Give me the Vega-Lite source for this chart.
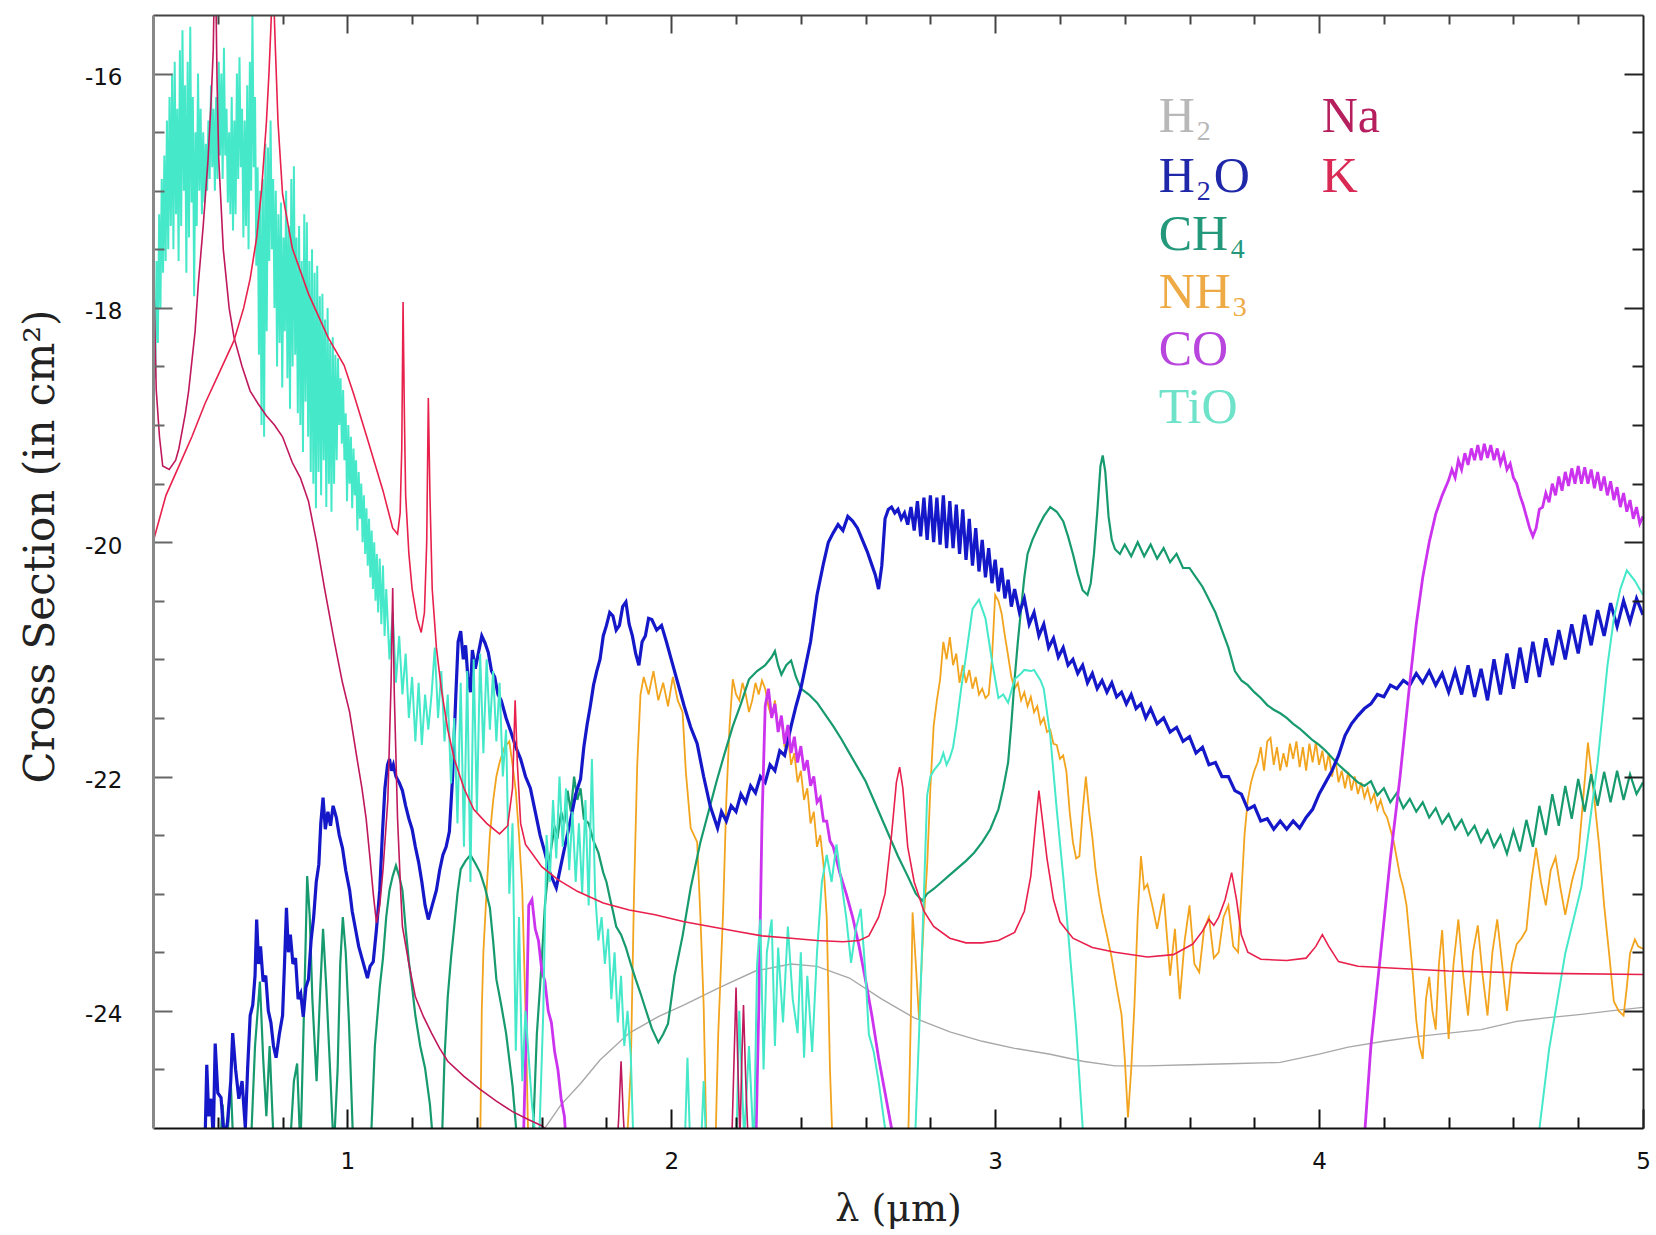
{
"$schema": "https://vega.github.io/schema/vega-lite/v6.json",
"width": 1490, "height": 1113,
"autosize": {"type": "none"},
"padding": {"left": 153, "top": 15, "right": 13, "bottom": 107},
"background": "white",
"config": {"view": {"stroke": null}},
"datasets": {
"h2": [{"x":1.58,"y":-25.3},{"x":1.61,"y":-25.0},{"x":1.66,"y":-24.8},{"x":1.72,"y":-24.62},{"x":1.78,"y":-24.42},{"x":1.87,"y":-24.19},{"x":1.96,"y":-24.05},{"x":2.04,"y":-23.95},{"x":2.15,"y":-23.8},{"x":2.26,"y":-23.66},{"x":2.37,"y":-23.6},{"x":2.45,"y":-23.62},{"x":2.55,"y":-23.72},{"x":2.65,"y":-23.9},{"x":2.75,"y":-24.06},{"x":2.86,"y":-24.18},{"x":2.96,"y":-24.26},{"x":3.06,"y":-24.32},{"x":3.17,"y":-24.37},{"x":3.27,"y":-24.43},{"x":3.37,"y":-24.47},{"x":3.47,"y":-24.47},{"x":3.6,"y":-24.46},{"x":3.75,"y":-24.45},{"x":3.88,"y":-24.44},{"x":4.0,"y":-24.37},{"x":4.09,"y":-24.31},{"x":4.2,"y":-24.26},{"x":4.3,"y":-24.22},{"x":4.4,"y":-24.19},{"x":4.5,"y":-24.16},{"x":4.61,"y":-24.09},{"x":4.7,"y":-24.06},{"x":4.81,"y":-24.03},{"x":4.9,"y":-24.0},{"x":5.0,"y":-23.97}],
"nh3": [{"x":1.38,"y":-25.5},{"x":1.41,"y":-25.2},{"x":1.415,"y":-24.0},{"x":1.42,"y":-23.5},{"x":1.43,"y":-22.97},{"x":1.44,"y":-22.5},{"x":1.45,"y":-22.21},{"x":1.46,"y":-22.0},{"x":1.47,"y":-21.88},{"x":1.485,"y":-21.75},{"x":1.5,"y":-21.7},{"x":1.51,"y":-21.9},{"x":1.52,"y":-22.12},{"x":1.53,"y":-22.5},{"x":1.54,"y":-22.97},{"x":1.55,"y":-24.0},{"x":1.56,"y":-25.3},{"x":1.86,"y":-25.3},{"x":1.875,"y":-24.5},{"x":1.885,"y":-23.0},{"x":1.895,"y":-21.9},{"x":1.905,"y":-21.3},{"x":1.915,"y":-21.15},{"x":1.93,"y":-21.3},{"x":1.945,"y":-21.1},{"x":1.96,"y":-21.35},{"x":1.975,"y":-21.2},{"x":1.99,"y":-21.4},{"x":2.005,"y":-21.15},{"x":2.02,"y":-21.35},{"x":2.035,"y":-21.45},{"x":2.045,"y":-21.96},{"x":2.06,"y":-22.44},{"x":2.08,"y":-22.56},{"x":2.09,"y":-23.2},{"x":2.1,"y":-23.95},{"x":2.11,"y":-25.3},{"x":2.135,"y":-25.3},{"x":2.145,"y":-24.2},{"x":2.16,"y":-23.16},{"x":2.17,"y":-22.2},{"x":2.18,"y":-21.57},{"x":2.19,"y":-21.17},{"x":2.2,"y":-21.3},{"x":2.21,"y":-21.35},{"x":2.22,"y":-21.2},{"x":2.23,"y":-21.3},{"x":2.24,"y":-21.45},{"x":2.25,"y":-21.35},{"x":2.26,"y":-21.2},{"x":2.27,"y":-21.3},{"x":2.28,"y":-21.18},{"x":2.29,"y":-21.25},{"x":2.3,"y":-21.4},{"x":2.31,"y":-21.5},{"x":2.32,"y":-21.35},{"x":2.33,"y":-21.6},{"x":2.34,"y":-21.5},{"x":2.35,"y":-21.75},{"x":2.36,"y":-21.65},{"x":2.37,"y":-21.9},{"x":2.38,"y":-21.8},{"x":2.39,"y":-22.05},{"x":2.4,"y":-21.95},{"x":2.41,"y":-22.2},{"x":2.42,"y":-22.1},{"x":2.43,"y":-22.4},{"x":2.44,"y":-22.3},{"x":2.45,"y":-22.6},{"x":2.46,"y":-22.5},{"x":2.47,"y":-22.75},{"x":2.48,"y":-23.2},{"x":2.49,"y":-24.5},{"x":2.5,"y":-25.3},{"x":2.73,"y":-25.3},{"x":2.74,"y":-24.0},{"x":2.745,"y":-23.16},{"x":2.755,"y":-23.6},{"x":2.765,"y":-24.07},{"x":2.78,"y":-23.2},{"x":2.79,"y":-22.76},{"x":2.8,"y":-22.1},{"x":2.81,"y":-21.57},{"x":2.82,"y":-21.35},{"x":2.83,"y":-21.17},{"x":2.84,"y":-20.85},{"x":2.85,"y":-21.0},{"x":2.86,"y":-20.81},{"x":2.87,"y":-21.05},{"x":2.88,"y":-20.95},{"x":2.89,"y":-21.2},{"x":2.9,"y":-21.05},{"x":2.91,"y":-21.2},{"x":2.92,"y":-21.09},{"x":2.93,"y":-21.25},{"x":2.94,"y":-21.15},{"x":2.95,"y":-21.3},{"x":2.96,"y":-21.25},{"x":2.97,"y":-21.33},{"x":2.98,"y":-21.3},{"x":2.99,"y":-21.0},{"x":3.0,"y":-20.45},{"x":3.01,"y":-20.5},{"x":3.02,"y":-20.61},{"x":3.03,"y":-20.8},{"x":3.04,"y":-20.97},{"x":3.05,"y":-21.15},{"x":3.06,"y":-21.25},{"x":3.07,"y":-21.2},{"x":3.08,"y":-21.35},{"x":3.09,"y":-21.28},{"x":3.1,"y":-21.4},{"x":3.11,"y":-21.32},{"x":3.12,"y":-21.45},{"x":3.13,"y":-21.4},{"x":3.14,"y":-21.55},{"x":3.15,"y":-21.5},{"x":3.16,"y":-21.62},{"x":3.17,"y":-21.6},{"x":3.18,"y":-21.72},{"x":3.19,"y":-21.73},{"x":3.2,"y":-21.85},{"x":3.21,"y":-21.82},{"x":3.22,"y":-21.96},{"x":3.23,"y":-22.3},{"x":3.24,"y":-22.56},{"x":3.25,"y":-22.7},{"x":3.26,"y":-22.68},{"x":3.27,"y":-22.3},{"x":3.28,"y":-22.0},{"x":3.29,"y":-22.3},{"x":3.3,"y":-22.52},{"x":3.31,"y":-22.8},{"x":3.32,"y":-23.0},{"x":3.33,"y":-23.16},{"x":3.345,"y":-23.35},{"x":3.36,"y":-23.55},{"x":3.375,"y":-23.8},{"x":3.39,"y":-24.03},{"x":3.4,"y":-24.4},{"x":3.41,"y":-24.91},{"x":3.42,"y":-24.5},{"x":3.43,"y":-23.95},{"x":3.44,"y":-23.2},{"x":3.45,"y":-22.68},{"x":3.46,"y":-22.96},{"x":3.47,"y":-22.92},{"x":3.485,"y":-23.1},{"x":3.5,"y":-23.3},{"x":3.52,"y":-23.0},{"x":3.54,"y":-23.7},{"x":3.555,"y":-23.3},{"x":3.57,"y":-23.9},{"x":3.585,"y":-23.4},{"x":3.6,"y":-23.1},{"x":3.615,"y":-23.6},{"x":3.63,"y":-23.67},{"x":3.645,"y":-23.3},{"x":3.66,"y":-23.2},{"x":3.675,"y":-23.55},{"x":3.69,"y":-23.5},{"x":3.705,"y":-23.2},{"x":3.72,"y":-23.1},{"x":3.735,"y":-23.45},{"x":3.75,"y":-23.5},{"x":3.76,"y":-23.0},{"x":3.77,"y":-22.49},{"x":3.78,"y":-22.2},{"x":3.79,"y":-22.05},{"x":3.8,"y":-21.95},{"x":3.81,"y":-21.88},{"x":3.82,"y":-21.75},{"x":3.83,"y":-21.95},{"x":3.84,"y":-21.7},{"x":3.85,"y":-21.67},{"x":3.86,"y":-21.9},{"x":3.87,"y":-21.75},{"x":3.88,"y":-21.95},{"x":3.89,"y":-21.8},{"x":3.9,"y":-21.92},{"x":3.91,"y":-21.72},{"x":3.92,"y":-21.85},{"x":3.93,"y":-21.7},{"x":3.94,"y":-21.92},{"x":3.95,"y":-21.75},{"x":3.96,"y":-21.95},{"x":3.97,"y":-21.72},{"x":3.98,"y":-21.88},{"x":3.99,"y":-21.71},{"x":4.0,"y":-21.9},{"x":4.01,"y":-21.78},{"x":4.02,"y":-21.95},{"x":4.03,"y":-21.8},{"x":4.04,"y":-22.0},{"x":4.05,"y":-21.85},{"x":4.06,"y":-22.05},{"x":4.07,"y":-21.95},{"x":4.08,"y":-22.1},{"x":4.09,"y":-21.96},{"x":4.1,"y":-22.12},{"x":4.11,"y":-22.0},{"x":4.12,"y":-22.15},{"x":4.13,"y":-22.05},{"x":4.14,"y":-22.18},{"x":4.15,"y":-22.1},{"x":4.16,"y":-22.22},{"x":4.17,"y":-22.15},{"x":4.18,"y":-22.28},{"x":4.19,"y":-22.2},{"x":4.2,"y":-22.3},{"x":4.21,"y":-22.35},{"x":4.22,"y":-22.45},{"x":4.23,"y":-22.55},{"x":4.24,"y":-22.7},{"x":4.25,"y":-22.85},{"x":4.26,"y":-22.95},{"x":4.27,"y":-23.1},{"x":4.28,"y":-23.4},{"x":4.29,"y":-23.71},{"x":4.3,"y":-24.08},{"x":4.31,"y":-24.3},{"x":4.32,"y":-24.41},{"x":4.33,"y":-23.9},{"x":4.34,"y":-23.71},{"x":4.35,"y":-24.0},{"x":4.36,"y":-24.16},{"x":4.37,"y":-23.6},{"x":4.38,"y":-23.31},{"x":4.39,"y":-23.8},{"x":4.4,"y":-24.24},{"x":4.415,"y":-23.6},{"x":4.43,"y":-23.22},{"x":4.445,"y":-23.7},{"x":4.46,"y":-24.04},{"x":4.475,"y":-23.5},{"x":4.49,"y":-23.27},{"x":4.505,"y":-23.7},{"x":4.52,"y":-24.04},{"x":4.535,"y":-23.5},{"x":4.55,"y":-23.22},{"x":4.565,"y":-23.6},{"x":4.58,"y":-24.0},{"x":4.595,"y":-23.6},{"x":4.61,"y":-23.43},{"x":4.625,"y":-23.38},{"x":4.64,"y":-23.31},{"x":4.655,"y":-22.9},{"x":4.67,"y":-22.61},{"x":4.685,"y":-22.9},{"x":4.7,"y":-23.1},{"x":4.715,"y":-22.8},{"x":4.73,"y":-22.69},{"x":4.745,"y":-22.95},{"x":4.76,"y":-23.18},{"x":4.78,"y":-22.9},{"x":4.8,"y":-22.69},{"x":4.815,"y":-22.2},{"x":4.83,"y":-21.71},{"x":4.84,"y":-21.95},{"x":4.85,"y":-22.2},{"x":4.865,"y":-22.6},{"x":4.88,"y":-23.1},{"x":4.895,"y":-23.5},{"x":4.91,"y":-23.92},{"x":4.925,"y":-24.0},{"x":4.94,"y":-24.04},{"x":4.95,"y":-23.8},{"x":4.96,"y":-23.51},{"x":4.975,"y":-23.39},{"x":4.985,"y":-23.45},{"x":5.0,"y":-23.47}],
"ch4": [{"x":0.6,"y":-25.5},{"x":0.615,"y":-24.8},{"x":0.625,"y":-25.3},{"x":0.64,"y":-24.6},{"x":0.65,"y":-25.3},{"x":0.7,"y":-25.3},{"x":0.715,"y":-24.3},{"x":0.73,"y":-23.75},{"x":0.74,"y":-24.4},{"x":0.75,"y":-24.9},{"x":0.76,"y":-24.3},{"x":0.775,"y":-25.3},{"x":0.82,"y":-25.3},{"x":0.835,"y":-24.6},{"x":0.845,"y":-24.45},{"x":0.855,"y":-25.2},{"x":0.868,"y":-23.8},{"x":0.876,"y":-22.85},{"x":0.884,"y":-23.2},{"x":0.892,"y":-23.9},{"x":0.905,"y":-24.6},{"x":0.915,"y":-23.9},{"x":0.925,"y":-23.3},{"x":0.935,"y":-23.8},{"x":0.945,"y":-24.4},{"x":0.958,"y":-25.2},{"x":0.97,"y":-24.5},{"x":0.978,"y":-23.6},{"x":0.986,"y":-23.2},{"x":0.995,"y":-23.5},{"x":1.005,"y":-24.1},{"x":1.02,"y":-25.3},{"x":1.07,"y":-25.3},{"x":1.085,"y":-24.3},{"x":1.1,"y":-23.8},{"x":1.11,"y":-23.55},{"x":1.12,"y":-23.2},{"x":1.13,"y":-22.97},{"x":1.14,"y":-22.85},{"x":1.15,"y":-22.76},{"x":1.16,"y":-22.85},{"x":1.17,"y":-22.97},{"x":1.18,"y":-23.3},{"x":1.19,"y":-23.58},{"x":1.2,"y":-23.8},{"x":1.21,"y":-24.04},{"x":1.225,"y":-24.3},{"x":1.24,"y":-24.49},{"x":1.255,"y":-24.8},{"x":1.27,"y":-25.3},{"x":1.29,"y":-25.3},{"x":1.3,"y":-24.4},{"x":1.31,"y":-23.88},{"x":1.32,"y":-23.55},{"x":1.33,"y":-23.28},{"x":1.34,"y":-23.0},{"x":1.35,"y":-22.79},{"x":1.365,"y":-22.72},{"x":1.38,"y":-22.67},{"x":1.395,"y":-22.74},{"x":1.41,"y":-22.82},{"x":1.425,"y":-22.95},{"x":1.44,"y":-23.12},{"x":1.45,"y":-23.4},{"x":1.46,"y":-23.73},{"x":1.475,"y":-23.95},{"x":1.49,"y":-24.19},{"x":1.51,"y":-24.64},{"x":1.53,"y":-25.3},{"x":1.57,"y":-25.3},{"x":1.585,"y":-24.2},{"x":1.6,"y":-23.58},{"x":1.61,"y":-23.1},{"x":1.62,"y":-22.82},{"x":1.63,"y":-22.6},{"x":1.64,"y":-22.43},{"x":1.65,"y":-22.5},{"x":1.66,"y":-22.3},{"x":1.67,"y":-22.4},{"x":1.68,"y":-22.12},{"x":1.69,"y":-22.3},{"x":1.7,"y":-22.0},{"x":1.71,"y":-22.2},{"x":1.72,"y":-22.1},{"x":1.73,"y":-22.36},{"x":1.745,"y":-22.4},{"x":1.76,"y":-22.55},{"x":1.775,"y":-22.65},{"x":1.79,"y":-22.82},{"x":1.8,"y":-22.9},{"x":1.81,"y":-23.03},{"x":1.82,"y":-23.15},{"x":1.83,"y":-23.28},{"x":1.845,"y":-23.35},{"x":1.86,"y":-23.46},{"x":1.875,"y":-23.6},{"x":1.89,"y":-23.73},{"x":1.905,"y":-23.85},{"x":1.92,"y":-23.98},{"x":1.94,"y":-24.15},{"x":1.96,"y":-24.27},{"x":1.975,"y":-24.2},{"x":1.99,"y":-24.11},{"x":2.01,"y":-23.7},{"x":2.035,"y":-23.36},{"x":2.06,"y":-22.95},{"x":2.09,"y":-22.56},{"x":2.115,"y":-22.3},{"x":2.14,"y":-22.04},{"x":2.165,"y":-21.8},{"x":2.19,"y":-21.57},{"x":2.215,"y":-21.38},{"x":2.24,"y":-21.17},{"x":2.265,"y":-21.1},{"x":2.29,"y":-21.05},{"x":2.31,"y":-20.98},{"x":2.32,"y":-20.93},{"x":2.33,"y":-21.05},{"x":2.34,"y":-21.13},{"x":2.355,"y":-21.05},{"x":2.37,"y":-21.01},{"x":2.385,"y":-21.15},{"x":2.4,"y":-21.25},{"x":2.425,"y":-21.3},{"x":2.45,"y":-21.37},{"x":2.475,"y":-21.47},{"x":2.5,"y":-21.57},{"x":2.525,"y":-21.68},{"x":2.55,"y":-21.8},{"x":2.575,"y":-21.92},{"x":2.6,"y":-22.04},{"x":2.625,"y":-22.2},{"x":2.65,"y":-22.36},{"x":2.675,"y":-22.52},{"x":2.7,"y":-22.68},{"x":2.73,"y":-22.85},{"x":2.755,"y":-23.0},{"x":2.775,"y":-23.06},{"x":2.79,"y":-23.0},{"x":2.81,"y":-22.96},{"x":2.835,"y":-22.9},{"x":2.86,"y":-22.84},{"x":2.885,"y":-22.78},{"x":2.91,"y":-22.72},{"x":2.935,"y":-22.65},{"x":2.96,"y":-22.56},{"x":2.985,"y":-22.45},{"x":3.01,"y":-22.28},{"x":3.025,"y":-22.1},{"x":3.04,"y":-21.88},{"x":3.05,"y":-21.55},{"x":3.06,"y":-21.17},{"x":3.07,"y":-20.85},{"x":3.08,"y":-20.57},{"x":3.09,"y":-20.3},{"x":3.1,"y":-20.1},{"x":3.115,"y":-19.98},{"x":3.135,"y":-19.86},{"x":3.15,"y":-19.78},{"x":3.17,"y":-19.7},{"x":3.19,"y":-19.74},{"x":3.21,"y":-19.82},{"x":3.225,"y":-19.95},{"x":3.24,"y":-20.1},{"x":3.255,"y":-20.27},{"x":3.27,"y":-20.41},{"x":3.285,"y":-20.45},{"x":3.295,"y":-20.35},{"x":3.305,"y":-20.1},{"x":3.315,"y":-19.75},{"x":3.325,"y":-19.35},{"x":3.332,"y":-19.26},{"x":3.34,"y":-19.4},{"x":3.35,"y":-19.78},{"x":3.36,"y":-19.98},{"x":3.37,"y":-20.06},{"x":3.385,"y":-20.1},{"x":3.4,"y":-20.02},{"x":3.42,"y":-20.12},{"x":3.44,"y":-20.0},{"x":3.46,"y":-20.12},{"x":3.48,"y":-20.02},{"x":3.5,"y":-20.14},{"x":3.52,"y":-20.05},{"x":3.54,"y":-20.17},{"x":3.56,"y":-20.1},{"x":3.58,"y":-20.22},{"x":3.6,"y":-20.22},{"x":3.62,"y":-20.3},{"x":3.64,"y":-20.38},{"x":3.66,"y":-20.49},{"x":3.68,"y":-20.6},{"x":3.7,"y":-20.75},{"x":3.72,"y":-20.9},{"x":3.74,"y":-21.1},{"x":3.76,"y":-21.18},{"x":3.78,"y":-21.22},{"x":3.8,"y":-21.28},{"x":3.82,"y":-21.33},{"x":3.84,"y":-21.39},{"x":3.86,"y":-21.43},{"x":3.88,"y":-21.46},{"x":3.9,"y":-21.5},{"x":3.92,"y":-21.55},{"x":3.94,"y":-21.59},{"x":3.96,"y":-21.64},{"x":3.98,"y":-21.69},{"x":4.0,"y":-21.73},{"x":4.02,"y":-21.78},{"x":4.04,"y":-21.84},{"x":4.06,"y":-21.9},{"x":4.08,"y":-21.95},{"x":4.1,"y":-22.0},{"x":4.12,"y":-22.05},{"x":4.14,"y":-22.08},{"x":4.16,"y":-22.04},{"x":4.18,"y":-22.16},{"x":4.2,"y":-22.1},{"x":4.22,"y":-22.22},{"x":4.24,"y":-22.14},{"x":4.26,"y":-22.27},{"x":4.28,"y":-22.19},{"x":4.3,"y":-22.3},{"x":4.32,"y":-22.22},{"x":4.34,"y":-22.35},{"x":4.36,"y":-22.27},{"x":4.38,"y":-22.4},{"x":4.4,"y":-22.32},{"x":4.42,"y":-22.45},{"x":4.44,"y":-22.37},{"x":4.46,"y":-22.5},{"x":4.48,"y":-22.42},{"x":4.5,"y":-22.56},{"x":4.52,"y":-22.46},{"x":4.54,"y":-22.6},{"x":4.56,"y":-22.5},{"x":4.58,"y":-22.66},{"x":4.6,"y":-22.46},{"x":4.62,"y":-22.64},{"x":4.64,"y":-22.37},{"x":4.66,"y":-22.6},{"x":4.68,"y":-22.25},{"x":4.7,"y":-22.5},{"x":4.72,"y":-22.15},{"x":4.74,"y":-22.42},{"x":4.76,"y":-22.08},{"x":4.78,"y":-22.36},{"x":4.8,"y":-22.02},{"x":4.82,"y":-22.3},{"x":4.84,"y":-21.98},{"x":4.86,"y":-22.25},{"x":4.88,"y":-21.96},{"x":4.9,"y":-22.22},{"x":4.92,"y":-21.95},{"x":4.94,"y":-22.2},{"x":4.96,"y":-21.98},{"x":4.98,"y":-22.15},{"x":5.0,"y":-22.05}],
"h2o": [{"x":0.55,"y":-25.5},{"x":0.56,"y":-25.2},{"x":0.566,"y":-24.46},{"x":0.572,"y":-24.9},{"x":0.58,"y":-24.75},{"x":0.586,"y":-25.1},{"x":0.592,"y":-24.28},{"x":0.6,"y":-24.7},{"x":0.61,"y":-24.74},{"x":0.62,"y":-25.1},{"x":0.63,"y":-24.95},{"x":0.64,"y":-24.6},{"x":0.646,"y":-24.19},{"x":0.655,"y":-24.5},{"x":0.665,"y":-24.75},{"x":0.675,"y":-24.6},{"x":0.685,"y":-25.0},{"x":0.692,"y":-24.5},{"x":0.7,"y":-24.04},{"x":0.708,"y":-23.95},{"x":0.715,"y":-23.7},{"x":0.72,"y":-23.22},{"x":0.726,"y":-23.6},{"x":0.732,"y":-23.45},{"x":0.74,"y":-23.75},{"x":0.748,"y":-23.7},{"x":0.756,"y":-24.0},{"x":0.764,"y":-24.1},{"x":0.772,"y":-24.3},{"x":0.78,"y":-24.4},{"x":0.79,"y":-24.2},{"x":0.8,"y":-24.04},{"x":0.806,"y":-23.6},{"x":0.812,"y":-23.12},{"x":0.818,"y":-23.5},{"x":0.824,"y":-23.35},{"x":0.832,"y":-23.6},{"x":0.84,"y":-23.55},{"x":0.848,"y":-23.9},{"x":0.856,"y":-23.85},{"x":0.864,"y":-24.05},{"x":0.872,"y":-23.8},{"x":0.88,"y":-23.73},{"x":0.888,"y":-23.4},{"x":0.896,"y":-23.2},{"x":0.904,"y":-22.9},{"x":0.912,"y":-22.75},{"x":0.918,"y":-22.4},{"x":0.925,"y":-22.18},{"x":0.932,"y":-22.45},{"x":0.94,"y":-22.3},{"x":0.948,"y":-22.42},{"x":0.956,"y":-22.25},{"x":0.966,"y":-22.35},{"x":0.975,"y":-22.5},{"x":0.985,"y":-22.61},{"x":0.995,"y":-22.8},{"x":1.007,"y":-22.97},{"x":1.015,"y":-23.15},{"x":1.025,"y":-23.3},{"x":1.035,"y":-23.45},{"x":1.045,"y":-23.55},{"x":1.055,"y":-23.65},{"x":1.062,"y":-23.72},{"x":1.07,"y":-23.62},{"x":1.08,"y":-23.58},{"x":1.09,"y":-23.3},{"x":1.1,"y":-22.97},{"x":1.108,"y":-22.5},{"x":1.116,"y":-22.1},{"x":1.124,"y":-21.9},{"x":1.13,"y":-21.85},{"x":1.136,"y":-21.95},{"x":1.142,"y":-21.9},{"x":1.15,"y":-22.0},{"x":1.16,"y":-22.05},{"x":1.17,"y":-22.12},{"x":1.18,"y":-22.25},{"x":1.19,"y":-22.36},{"x":1.2,"y":-22.45},{"x":1.21,"y":-22.6},{"x":1.22,"y":-22.73},{"x":1.23,"y":-22.9},{"x":1.24,"y":-23.1},{"x":1.25,"y":-23.22},{"x":1.262,"y":-23.1},{"x":1.275,"y":-22.97},{"x":1.285,"y":-22.8},{"x":1.295,"y":-22.67},{"x":1.305,"y":-22.6},{"x":1.315,"y":-22.47},{"x":1.325,"y":-22.0},{"x":1.335,"y":-21.3},{"x":1.342,"y":-20.85},{"x":1.35,"y":-20.76},{"x":1.358,"y":-21.0},{"x":1.365,"y":-20.88},{"x":1.372,"y":-21.15},{"x":1.38,"y":-21.28},{"x":1.386,"y":-20.92},{"x":1.395,"y":-21.08},{"x":1.405,"y":-20.94},{"x":1.415,"y":-20.8},{"x":1.425,"y":-20.86},{"x":1.435,"y":-20.94},{"x":1.445,"y":-21.1},{"x":1.455,"y":-21.15},{"x":1.465,"y":-21.3},{"x":1.475,"y":-21.35},{"x":1.49,"y":-21.5},{"x":1.505,"y":-21.62},{"x":1.52,"y":-21.75},{"x":1.535,"y":-21.85},{"x":1.55,"y":-22.0},{"x":1.565,"y":-22.1},{"x":1.58,"y":-22.3},{"x":1.595,"y":-22.5},{"x":1.61,"y":-22.65},{"x":1.625,"y":-22.82},{"x":1.645,"y":-22.95},{"x":1.66,"y":-22.75},{"x":1.675,"y":-22.55},{"x":1.69,"y":-22.36},{"x":1.705,"y":-22.15},{"x":1.72,"y":-22.02},{"x":1.73,"y":-21.75},{"x":1.74,"y":-21.56},{"x":1.75,"y":-21.4},{"x":1.76,"y":-21.22},{"x":1.77,"y":-21.1},{"x":1.78,"y":-21.0},{"x":1.79,"y":-20.8},{"x":1.8,"y":-20.71},{"x":1.81,"y":-20.6},{"x":1.82,"y":-20.63},{"x":1.83,"y":-20.75},{"x":1.84,"y":-20.71},{"x":1.85,"y":-20.55},{"x":1.86,"y":-20.51},{"x":1.87,"y":-20.7},{"x":1.88,"y":-20.8},{"x":1.89,"y":-20.95},{"x":1.9,"y":-21.05},{"x":1.91,"y":-20.85},{"x":1.92,"y":-20.8},{"x":1.93,"y":-20.65},{"x":1.94,"y":-20.66},{"x":1.955,"y":-20.75},{"x":1.97,"y":-20.71},{"x":1.985,"y":-20.85},{"x":2.0,"y":-21.0},{"x":2.02,"y":-21.2},{"x":2.04,"y":-21.4},{"x":2.06,"y":-21.58},{"x":2.08,"y":-21.72},{"x":2.1,"y":-22.0},{"x":2.12,"y":-22.25},{"x":2.143,"y":-22.44},{"x":2.155,"y":-22.3},{"x":2.17,"y":-22.38},{"x":2.185,"y":-22.25},{"x":2.2,"y":-22.3},{"x":2.215,"y":-22.15},{"x":2.23,"y":-22.22},{"x":2.245,"y":-22.08},{"x":2.26,"y":-22.14},{"x":2.275,"y":-22.0},{"x":2.29,"y":-22.05},{"x":2.305,"y":-21.9},{"x":2.32,"y":-21.95},{"x":2.335,"y":-21.78},{"x":2.35,"y":-21.82},{"x":2.37,"y":-21.57},{"x":2.385,"y":-21.4},{"x":2.4,"y":-21.25},{"x":2.415,"y":-21.05},{"x":2.43,"y":-20.85},{"x":2.45,"y":-20.45},{"x":2.47,"y":-20.18},{"x":2.485,"y":-20.0},{"x":2.5,"y":-19.92},{"x":2.515,"y":-19.85},{"x":2.53,"y":-19.9},{"x":2.545,"y":-19.78},{"x":2.56,"y":-19.82},{"x":2.575,"y":-19.88},{"x":2.59,"y":-19.98},{"x":2.605,"y":-20.08},{"x":2.62,"y":-20.2},{"x":2.63,"y":-20.28},{"x":2.64,"y":-20.4},{"x":2.65,"y":-20.2},{"x":2.66,"y":-19.8},{"x":2.67,"y":-19.72},{"x":2.68,"y":-19.7},{"x":2.69,"y":-19.75},{"x":2.7,"y":-19.72},{"x":2.71,"y":-19.8},{"x":2.72,"y":-19.75},{"x":2.73,"y":-19.85},{"x":2.74,"y":-19.7},{"x":2.75,"y":-19.9},{"x":2.76,"y":-19.65},{"x":2.77,"y":-19.95},{"x":2.78,"y":-19.62},{"x":2.79,"y":-19.98},{"x":2.8,"y":-19.6},{"x":2.81,"y":-20.0},{"x":2.82,"y":-19.62},{"x":2.83,"y":-20.02},{"x":2.84,"y":-19.6},{"x":2.85,"y":-20.05},{"x":2.86,"y":-19.65},{"x":2.87,"y":-20.05},{"x":2.88,"y":-19.68},{"x":2.89,"y":-20.1},{"x":2.9,"y":-19.72},{"x":2.91,"y":-20.15},{"x":2.92,"y":-19.8},{"x":2.93,"y":-20.2},{"x":2.94,"y":-19.88},{"x":2.95,"y":-20.25},{"x":2.96,"y":-19.98},{"x":2.97,"y":-20.3},{"x":2.98,"y":-20.05},{"x":2.99,"y":-20.35},{"x":3.0,"y":-20.15},{"x":3.01,"y":-20.42},{"x":3.02,"y":-20.22},{"x":3.03,"y":-20.48},{"x":3.04,"y":-20.32},{"x":3.05,"y":-20.55},{"x":3.06,"y":-20.4},{"x":3.075,"y":-20.6},{"x":3.09,"y":-20.48},{"x":3.105,"y":-20.7},{"x":3.12,"y":-20.6},{"x":3.135,"y":-20.8},{"x":3.15,"y":-20.7},{"x":3.165,"y":-20.9},{"x":3.18,"y":-20.82},{"x":3.195,"y":-20.98},{"x":3.21,"y":-20.9},{"x":3.225,"y":-21.05},{"x":3.24,"y":-21.0},{"x":3.255,"y":-21.12},{"x":3.27,"y":-21.05},{"x":3.285,"y":-21.2},{"x":3.3,"y":-21.12},{"x":3.315,"y":-21.25},{"x":3.33,"y":-21.18},{"x":3.345,"y":-21.28},{"x":3.36,"y":-21.2},{"x":3.375,"y":-21.32},{"x":3.39,"y":-21.28},{"x":3.405,"y":-21.38},{"x":3.42,"y":-21.3},{"x":3.435,"y":-21.42},{"x":3.45,"y":-21.38},{"x":3.465,"y":-21.5},{"x":3.48,"y":-21.42},{"x":3.5,"y":-21.55},{"x":3.52,"y":-21.5},{"x":3.54,"y":-21.62},{"x":3.56,"y":-21.58},{"x":3.58,"y":-21.7},{"x":3.6,"y":-21.66},{"x":3.62,"y":-21.8},{"x":3.64,"y":-21.75},{"x":3.66,"y":-21.9},{"x":3.68,"y":-21.88},{"x":3.7,"y":-22.0},{"x":3.72,"y":-22.0},{"x":3.74,"y":-22.12},{"x":3.76,"y":-22.15},{"x":3.78,"y":-22.28},{"x":3.8,"y":-22.25},{"x":3.82,"y":-22.38},{"x":3.84,"y":-22.36},{"x":3.86,"y":-22.45},{"x":3.88,"y":-22.38},{"x":3.9,"y":-22.45},{"x":3.92,"y":-22.38},{"x":3.94,"y":-22.44},{"x":3.96,"y":-22.35},{"x":3.98,"y":-22.28},{"x":4.0,"y":-22.15},{"x":4.02,"y":-22.05},{"x":4.04,"y":-21.95},{"x":4.06,"y":-21.82},{"x":4.08,"y":-21.65},{"x":4.1,"y":-21.55},{"x":4.12,"y":-21.48},{"x":4.14,"y":-21.42},{"x":4.16,"y":-21.38},{"x":4.18,"y":-21.3},{"x":4.2,"y":-21.32},{"x":4.22,"y":-21.22},{"x":4.24,"y":-21.25},{"x":4.26,"y":-21.18},{"x":4.28,"y":-21.22},{"x":4.3,"y":-21.12},{"x":4.32,"y":-21.2},{"x":4.34,"y":-21.1},{"x":4.36,"y":-21.22},{"x":4.38,"y":-21.12},{"x":4.4,"y":-21.28},{"x":4.42,"y":-21.1},{"x":4.44,"y":-21.3},{"x":4.46,"y":-21.05},{"x":4.48,"y":-21.32},{"x":4.5,"y":-21.08},{"x":4.52,"y":-21.35},{"x":4.54,"y":-21.0},{"x":4.56,"y":-21.3},{"x":4.58,"y":-20.95},{"x":4.6,"y":-21.25},{"x":4.62,"y":-20.9},{"x":4.64,"y":-21.2},{"x":4.66,"y":-20.85},{"x":4.68,"y":-21.15},{"x":4.7,"y":-20.82},{"x":4.72,"y":-21.05},{"x":4.74,"y":-20.75},{"x":4.76,"y":-21.0},{"x":4.78,"y":-20.7},{"x":4.8,"y":-20.95},{"x":4.82,"y":-20.62},{"x":4.84,"y":-20.88},{"x":4.86,"y":-20.58},{"x":4.88,"y":-20.8},{"x":4.9,"y":-20.52},{"x":4.92,"y":-20.72},{"x":4.94,"y":-20.5},{"x":4.96,"y":-20.68},{"x":4.98,"y":-20.48},{"x":5.0,"y":-20.62}],
"co": [{"x":1.54,"y":-25.5},{"x":1.552,"y":-24.2},{"x":1.56,"y":-23.1},{"x":1.57,"y":-23.05},{"x":1.58,"y":-23.3},{"x":1.59,"y":-23.4},{"x":1.6,"y":-23.65},{"x":1.61,"y":-23.75},{"x":1.62,"y":-24.0},{"x":1.63,"y":-24.1},{"x":1.64,"y":-24.35},{"x":1.65,"y":-24.5},{"x":1.66,"y":-24.75},{"x":1.67,"y":-24.9},{"x":1.68,"y":-25.3},{"x":2.26,"y":-25.3},{"x":2.27,"y":-24.0},{"x":2.28,"y":-22.4},{"x":2.29,"y":-21.4},{"x":2.3,"y":-21.25},{"x":2.31,"y":-21.5},{"x":2.32,"y":-21.38},{"x":2.33,"y":-21.62},{"x":2.34,"y":-21.48},{"x":2.35,"y":-21.72},{"x":2.36,"y":-21.56},{"x":2.37,"y":-21.8},{"x":2.38,"y":-21.66},{"x":2.39,"y":-21.88},{"x":2.4,"y":-21.74},{"x":2.41,"y":-21.95},{"x":2.42,"y":-21.86},{"x":2.43,"y":-22.08},{"x":2.44,"y":-22.0},{"x":2.45,"y":-22.22},{"x":2.46,"y":-22.18},{"x":2.47,"y":-22.38},{"x":2.48,"y":-22.38},{"x":2.49,"y":-22.55},{"x":2.5,"y":-22.6},{"x":2.52,"y":-22.82},{"x":2.54,"y":-23.0},{"x":2.56,"y":-23.2},{"x":2.58,"y":-23.45},{"x":2.6,"y":-23.74},{"x":2.62,"y":-24.05},{"x":2.64,"y":-24.4},{"x":2.66,"y":-24.7},{"x":2.68,"y":-25.0},{"x":2.7,"y":-25.4},{"x":4.1,"y":-25.5},{"x":4.142,"y":-25.0},{"x":4.16,"y":-24.3},{"x":4.19,"y":-23.51},{"x":4.22,"y":-22.7},{"x":4.25,"y":-22.0},{"x":4.28,"y":-21.2},{"x":4.3,"y":-20.7},{"x":4.32,"y":-20.3},{"x":4.34,"y":-20.0},{"x":4.36,"y":-19.76},{"x":4.38,"y":-19.6},{"x":4.4,"y":-19.47},{"x":4.41,"y":-19.38},{"x":4.42,"y":-19.45},{"x":4.43,"y":-19.3},{"x":4.44,"y":-19.38},{"x":4.45,"y":-19.24},{"x":4.46,"y":-19.34},{"x":4.47,"y":-19.2},{"x":4.48,"y":-19.3},{"x":4.49,"y":-19.17},{"x":4.5,"y":-19.3},{"x":4.51,"y":-19.16},{"x":4.52,"y":-19.28},{"x":4.53,"y":-19.17},{"x":4.54,"y":-19.3},{"x":4.55,"y":-19.2},{"x":4.56,"y":-19.33},{"x":4.57,"y":-19.25},{"x":4.58,"y":-19.38},{"x":4.59,"y":-19.33},{"x":4.6,"y":-19.45},{"x":4.61,"y":-19.5},{"x":4.62,"y":-19.6},{"x":4.63,"y":-19.68},{"x":4.64,"y":-19.78},{"x":4.65,"y":-19.88},{"x":4.66,"y":-19.95},{"x":4.67,"y":-19.88},{"x":4.68,"y":-19.72},{"x":4.69,"y":-19.7},{"x":4.7,"y":-19.58},{"x":4.71,"y":-19.66},{"x":4.72,"y":-19.5},{"x":4.73,"y":-19.6},{"x":4.74,"y":-19.44},{"x":4.75,"y":-19.56},{"x":4.76,"y":-19.4},{"x":4.77,"y":-19.52},{"x":4.78,"y":-19.37},{"x":4.79,"y":-19.5},{"x":4.8,"y":-19.35},{"x":4.81,"y":-19.5},{"x":4.82,"y":-19.36},{"x":4.83,"y":-19.5},{"x":4.84,"y":-19.38},{"x":4.85,"y":-19.54},{"x":4.86,"y":-19.4},{"x":4.87,"y":-19.56},{"x":4.88,"y":-19.44},{"x":4.89,"y":-19.6},{"x":4.9,"y":-19.48},{"x":4.91,"y":-19.64},{"x":4.92,"y":-19.53},{"x":4.93,"y":-19.7},{"x":4.94,"y":-19.58},{"x":4.95,"y":-19.74},{"x":4.96,"y":-19.64},{"x":4.97,"y":-19.8},{"x":4.98,"y":-19.7},{"x":4.99,"y":-19.84},{"x":5.0,"y":-19.78}],
"tio": [{"x":0.4,"y":-19.0},{"x":0.403,"y":-17.9},{"x":0.407,"y":-18.6},{"x":0.411,"y":-17.6},{"x":0.415,"y":-18.3},{"x":0.419,"y":-17.2},{"x":0.423,"y":-18.0},{"x":0.427,"y":-16.9},{"x":0.431,"y":-17.7},{"x":0.435,"y":-16.7},{"x":0.439,"y":-17.6},{"x":0.443,"y":-16.4},{"x":0.447,"y":-17.5},{"x":0.451,"y":-16.2},{"x":0.455,"y":-17.3},{"x":0.459,"y":-16.0},{"x":0.463,"y":-17.5},{"x":0.467,"y":-15.9},{"x":0.471,"y":-17.2},{"x":0.475,"y":-16.3},{"x":0.479,"y":-17.6},{"x":0.483,"y":-15.8},{"x":0.487,"y":-17.3},{"x":0.491,"y":-15.63},{"x":0.495,"y":-17.0},{"x":0.499,"y":-16.1},{"x":0.503,"y":-17.7},{"x":0.507,"y":-15.9},{"x":0.511,"y":-17.4},{"x":0.515,"y":-15.6},{"x":0.519,"y":-17.1},{"x":0.523,"y":-16.2},{"x":0.527,"y":-17.9},{"x":0.531,"y":-16.5},{"x":0.535,"y":-17.3},{"x":0.539,"y":-16.0},{"x":0.543,"y":-17.0},{"x":0.547,"y":-16.3},{"x":0.551,"y":-17.2},{"x":0.555,"y":-16.5},{"x":0.559,"y":-17.1},{"x":0.563,"y":-16.6},{"x":0.567,"y":-17.0},{"x":0.571,"y":-16.4},{"x":0.575,"y":-16.9},{"x":0.579,"y":-16.1},{"x":0.583,"y":-16.8},{"x":0.587,"y":-16.3},{"x":0.591,"y":-17.0},{"x":0.595,"y":-16.2},{"x":0.599,"y":-16.9},{"x":0.603,"y":-15.9},{"x":0.607,"y":-16.7},{"x":0.611,"y":-16.0},{"x":0.615,"y":-16.9},{"x":0.619,"y":-15.78},{"x":0.623,"y":-16.7},{"x":0.627,"y":-16.3},{"x":0.631,"y":-17.1},{"x":0.635,"y":-16.5},{"x":0.639,"y":-17.2},{"x":0.643,"y":-16.2},{"x":0.647,"y":-17.34},{"x":0.651,"y":-16.4},{"x":0.655,"y":-17.2},{"x":0.659,"y":-16.0},{"x":0.663,"y":-16.9},{"x":0.667,"y":-15.86},{"x":0.671,"y":-16.8},{"x":0.675,"y":-16.3},{"x":0.679,"y":-17.4},{"x":0.683,"y":-16.4},{"x":0.687,"y":-17.3},{"x":0.691,"y":-16.1},{"x":0.695,"y":-17.5},{"x":0.699,"y":-15.9},{"x":0.703,"y":-17.0},{"x":0.707,"y":-15.5},{"x":0.711,"y":-16.8},{"x":0.715,"y":-16.2},{"x":0.719,"y":-17.64},{"x":0.723,"y":-16.8},{"x":0.727,"y":-18.4},{"x":0.731,"y":-17.0},{"x":0.735,"y":-19.0},{"x":0.739,"y":-16.9},{"x":0.743,"y":-19.1},{"x":0.747,"y":-16.6},{"x":0.751,"y":-18.2},{"x":0.755,"y":-16.63},{"x":0.759,"y":-17.6},{"x":0.763,"y":-16.4},{"x":0.767,"y":-17.5},{"x":0.771,"y":-16.9},{"x":0.775,"y":-18.0},{"x":0.779,"y":-17.0},{"x":0.783,"y":-18.5},{"x":0.787,"y":-17.2},{"x":0.791,"y":-18.3},{"x":0.795,"y":-17.1},{"x":0.799,"y":-18.68},{"x":0.803,"y":-17.4},{"x":0.807,"y":-18.2},{"x":0.811,"y":-17.0},{"x":0.815,"y":-18.6},{"x":0.819,"y":-17.3},{"x":0.823,"y":-18.86},{"x":0.827,"y":-16.9},{"x":0.831,"y":-18.5},{"x":0.835,"y":-16.79},{"x":0.839,"y":-18.4},{"x":0.843,"y":-17.4},{"x":0.847,"y":-18.9},{"x":0.851,"y":-17.3},{"x":0.855,"y":-19.0},{"x":0.859,"y":-17.6},{"x":0.863,"y":-19.23},{"x":0.867,"y":-17.2},{"x":0.871,"y":-18.8},{"x":0.875,"y":-17.27},{"x":0.879,"y":-19.1},{"x":0.883,"y":-17.6},{"x":0.887,"y":-19.4},{"x":0.891,"y":-17.5},{"x":0.895,"y":-19.5},{"x":0.899,"y":-17.7},{"x":0.903,"y":-19.71},{"x":0.907,"y":-17.64},{"x":0.911,"y":-19.4},{"x":0.915,"y":-17.9},{"x":0.919,"y":-19.6},{"x":0.923,"y":-17.88},{"x":0.927,"y":-19.3},{"x":0.931,"y":-18.1},{"x":0.935,"y":-19.7},{"x":0.939,"y":-18.0},{"x":0.943,"y":-19.5},{"x":0.947,"y":-18.3},{"x":0.951,"y":-19.74},{"x":0.955,"y":-18.25},{"x":0.959,"y":-19.5},{"x":0.963,"y":-18.4},{"x":0.967,"y":-19.3},{"x":0.971,"y":-18.43},{"x":0.975,"y":-19.0},{"x":0.979,"y":-18.6},{"x":0.983,"y":-19.16},{"x":0.987,"y":-18.7},{"x":0.991,"y":-19.3},{"x":0.995,"y":-18.9},{"x":0.999,"y":-19.65},{"x":1.003,"y":-19.0},{"x":1.007,"y":-19.5},{"x":1.011,"y":-19.1},{"x":1.015,"y":-19.71},{"x":1.019,"y":-19.2},{"x":1.023,"y":-19.6},{"x":1.027,"y":-19.3},{"x":1.031,"y":-19.9},{"x":1.035,"y":-19.4},{"x":1.039,"y":-19.8},{"x":1.043,"y":-19.5},{"x":1.047,"y":-20.0},{"x":1.051,"y":-19.6},{"x":1.055,"y":-20.1},{"x":1.059,"y":-19.71},{"x":1.063,"y":-20.2},{"x":1.067,"y":-19.8},{"x":1.071,"y":-20.3},{"x":1.075,"y":-19.9},{"x":1.079,"y":-20.4},{"x":1.083,"y":-20.0},{"x":1.087,"y":-20.5},{"x":1.091,"y":-20.1},{"x":1.095,"y":-20.6},{"x":1.1,"y":-20.14},{"x":1.105,"y":-20.7},{"x":1.11,"y":-20.2},{"x":1.115,"y":-20.8},{"x":1.12,"y":-20.4},{"x":1.13,"y":-21.0},{"x":1.14,"y":-20.6},{"x":1.15,"y":-21.2},{"x":1.16,"y":-20.8},{"x":1.17,"y":-21.3},{"x":1.18,"y":-20.95},{"x":1.19,"y":-21.5},{"x":1.2,"y":-21.15},{"x":1.21,"y":-21.7},{"x":1.22,"y":-21.2},{"x":1.23,"y":-21.73},{"x":1.24,"y":-21.3},{"x":1.25,"y":-21.6},{"x":1.26,"y":-21.3},{"x":1.27,"y":-20.9},{"x":1.28,"y":-21.5},{"x":1.29,"y":-21.1},{"x":1.3,"y":-21.7},{"x":1.31,"y":-21.3},{"x":1.32,"y":-22.06},{"x":1.33,"y":-21.5},{"x":1.34,"y":-22.4},{"x":1.35,"y":-21.2},{"x":1.36,"y":-22.6},{"x":1.37,"y":-21.1},{"x":1.38,"y":-22.9},{"x":1.39,"y":-21.0},{"x":1.4,"y":-22.3},{"x":1.41,"y":-20.95},{"x":1.42,"y":-21.8},{"x":1.43,"y":-21.0},{"x":1.44,"y":-21.6},{"x":1.45,"y":-21.1},{"x":1.46,"y":-21.7},{"x":1.47,"y":-21.2},{"x":1.48,"y":-22.0},{"x":1.49,"y":-21.6},{"x":1.5,"y":-23.0},{"x":1.51,"y":-22.4},{"x":1.52,"y":-24.34},{"x":1.53,"y":-23.2},{"x":1.54,"y":-24.6},{"x":1.55,"y":-24.0},{"x":1.57,"y":-24.8},{"x":1.59,"y":-25.3},{"x":1.605,"y":-24.0},{"x":1.615,"y":-22.5},{"x":1.625,"y":-22.9},{"x":1.635,"y":-22.2},{"x":1.645,"y":-22.7},{"x":1.655,"y":-22.0},{"x":1.665,"y":-22.6},{"x":1.675,"y":-22.1},{"x":1.685,"y":-22.8},{"x":1.695,"y":-22.3},{"x":1.705,"y":-22.9},{"x":1.715,"y":-22.4},{"x":1.725,"y":-23.0},{"x":1.735,"y":-22.2},{"x":1.745,"y":-23.1},{"x":1.755,"y":-21.85},{"x":1.765,"y":-23.0},{"x":1.775,"y":-23.4},{"x":1.785,"y":-23.2},{"x":1.795,"y":-23.6},{"x":1.805,"y":-23.3},{"x":1.815,"y":-23.9},{"x":1.825,"y":-23.5},{"x":1.835,"y":-24.1},{"x":1.845,"y":-23.7},{"x":1.855,"y":-24.3},{"x":1.865,"y":-24.0},{"x":1.875,"y":-24.38},{"x":1.885,"y":-25.3},{"x":2.04,"y":-25.3},{"x":2.05,"y":-24.4},{"x":2.06,"y":-25.3},{"x":2.09,"y":-25.3},{"x":2.1,"y":-24.6},{"x":2.11,"y":-25.3},{"x":2.2,"y":-25.3},{"x":2.21,"y":-24.0},{"x":2.225,"y":-25.1},{"x":2.24,"y":-24.3},{"x":2.255,"y":-25.2},{"x":2.265,"y":-23.6},{"x":2.275,"y":-23.22},{"x":2.285,"y":-24.5},{"x":2.295,"y":-23.5},{"x":2.31,"y":-23.22},{"x":2.32,"y":-24.3},{"x":2.33,"y":-23.46},{"x":2.345,"y":-24.1},{"x":2.36,"y":-23.28},{"x":2.375,"y":-23.9},{"x":2.39,"y":-24.19},{"x":2.4,"y":-23.5},{"x":2.41,"y":-24.4},{"x":2.42,"y":-23.7},{"x":2.435,"y":-24.35},{"x":2.45,"y":-23.5},{"x":2.465,"y":-22.9},{"x":2.48,"y":-22.67},{"x":2.495,"y":-22.9},{"x":2.51,"y":-22.58},{"x":2.525,"y":-22.9},{"x":2.54,"y":-23.2},{"x":2.555,"y":-23.59},{"x":2.57,"y":-23.3},{"x":2.585,"y":-23.13},{"x":2.6,"y":-23.7},{"x":2.61,"y":-24.2},{"x":2.625,"y":-24.35},{"x":2.64,"y":-24.6},{"x":2.66,"y":-25.0},{"x":2.68,"y":-25.3},{"x":2.75,"y":-25.3},{"x":2.765,"y":-24.2},{"x":2.78,"y":-23.0},{"x":2.79,"y":-22.16},{"x":2.8,"y":-22.0},{"x":2.81,"y":-21.95},{"x":2.83,"y":-21.88},{"x":2.84,"y":-21.8},{"x":2.85,"y":-21.9},{"x":2.86,"y":-21.84},{"x":2.87,"y":-21.75},{"x":2.88,"y":-21.57},{"x":2.895,"y":-21.25},{"x":2.91,"y":-20.97},{"x":2.93,"y":-20.57},{"x":2.95,"y":-20.49},{"x":2.97,"y":-20.65},{"x":2.99,"y":-21.01},{"x":3.01,"y":-21.33},{"x":3.025,"y":-21.3},{"x":3.04,"y":-21.37},{"x":3.06,"y":-21.17},{"x":3.08,"y":-21.12},{"x":3.09,"y":-21.09},{"x":3.11,"y":-21.1},{"x":3.12,"y":-21.09},{"x":3.14,"y":-21.18},{"x":3.15,"y":-21.25},{"x":3.17,"y":-21.65},{"x":3.19,"y":-22.28},{"x":3.21,"y":-22.85},{"x":3.22,"y":-23.16},{"x":3.25,"y":-24.15},{"x":3.27,"y":-24.99},{"x":3.29,"y":-25.5},{"x":4.66,"y":-25.5},{"x":4.68,"y":-25.01},{"x":4.71,"y":-24.33},{"x":4.76,"y":-23.51},{"x":4.81,"y":-22.94},{"x":4.86,"y":-21.88},{"x":4.89,"y":-21.06},{"x":4.91,"y":-20.65},{"x":4.93,"y":-20.4},{"x":4.95,"y":-20.24},{"x":4.975,"y":-20.33},{"x":5.0,"y":-20.45}],
"na": [{"x":0.4,"y":-15.3},{"x":0.402,"y":-16.5},{"x":0.404,"y":-17.95},{"x":0.41,"y":-18.7},{"x":0.42,"y":-19.1},{"x":0.43,"y":-19.35},{"x":0.45,"y":-19.38},{"x":0.47,"y":-19.3},{"x":0.48,"y":-19.2},{"x":0.5,"y":-18.9},{"x":0.51,"y":-18.71},{"x":0.53,"y":-18.2},{"x":0.54,"y":-17.79},{"x":0.555,"y":-17.3},{"x":0.57,"y":-16.73},{"x":0.58,"y":-16.2},{"x":0.586,"y":-15.8},{"x":0.589,"y":-15.3},{"x":0.594,"y":-15.3},{"x":0.598,"y":-16.1},{"x":0.603,"y":-16.73},{"x":0.617,"y":-17.5},{"x":0.635,"y":-18.0},{"x":0.65,"y":-18.25},{"x":0.675,"y":-18.5},{"x":0.7,"y":-18.71},{"x":0.725,"y":-18.82},{"x":0.75,"y":-18.92},{"x":0.775,"y":-19.0},{"x":0.8,"y":-19.1},{"x":0.83,"y":-19.32},{"x":0.855,"y":-19.45},{"x":0.88,"y":-19.65},{"x":0.905,"y":-20.0},{"x":0.93,"y":-20.4},{"x":0.96,"y":-20.85},{"x":0.985,"y":-21.2},{"x":1.007,"y":-21.45},{"x":1.03,"y":-21.85},{"x":1.045,"y":-22.1},{"x":1.058,"y":-22.36},{"x":1.07,"y":-22.7},{"x":1.08,"y":-23.0},{"x":1.09,"y":-23.25},{"x":1.1,"y":-23.1},{"x":1.11,"y":-22.8},{"x":1.125,"y":-22.2},{"x":1.135,"y":-21.2},{"x":1.14,"y":-20.39},{"x":1.145,"y":-21.3},{"x":1.155,"y":-22.36},{"x":1.165,"y":-23.0},{"x":1.17,"y":-23.28},{"x":1.19,"y":-23.6},{"x":1.21,"y":-23.88},{"x":1.235,"y":-24.05},{"x":1.26,"y":-24.19},{"x":1.285,"y":-24.32},{"x":1.31,"y":-24.43},{"x":1.36,"y":-24.56},{"x":1.41,"y":-24.67},{"x":1.46,"y":-24.77},{"x":1.51,"y":-24.86},{"x":1.56,"y":-24.93},{"x":1.6,"y":-24.98},{"x":1.65,"y":-25.1},{"x":1.8,"y":-25.3},{"x":1.83,"y":-25.3},{"x":1.838,"y":-24.9},{"x":1.845,"y":-24.43},{"x":1.852,"y":-24.9},{"x":1.86,"y":-25.3},{"x":2.185,"y":-25.3},{"x":2.195,"y":-24.3},{"x":2.2,"y":-23.8},{"x":2.205,"y":-24.4},{"x":2.212,"y":-25.1},{"x":2.218,"y":-24.4},{"x":2.223,"y":-23.95},{"x":2.23,"y":-24.6},{"x":2.24,"y":-25.3},{"x":5.0,"y":-25.4}],
"k": [{"x":0.4,"y":-20.0},{"x":0.44,"y":-19.6},{"x":0.48,"y":-19.35},{"x":0.52,"y":-19.1},{"x":0.56,"y":-18.82},{"x":0.6,"y":-18.58},{"x":0.65,"y":-18.28},{"x":0.68,"y":-18.0},{"x":0.7,"y":-17.75},{"x":0.72,"y":-17.4},{"x":0.735,"y":-17.0},{"x":0.75,"y":-16.42},{"x":0.758,"y":-16.0},{"x":0.764,"y":-15.6},{"x":0.768,"y":-15.3},{"x":0.772,"y":-15.3},{"x":0.778,"y":-15.8},{"x":0.786,"y":-16.42},{"x":0.8,"y":-17.03},{"x":0.83,"y":-17.49},{"x":0.88,"y":-17.88},{"x":0.94,"y":-18.25},{"x":0.99,"y":-18.49},{"x":1.02,"y":-18.74},{"x":1.06,"y":-19.1},{"x":1.11,"y":-19.56},{"x":1.14,"y":-19.88},{"x":1.155,"y":-19.93},{"x":1.163,"y":-19.75},{"x":1.168,"y":-19.2},{"x":1.172,"y":-17.95},{"x":1.176,"y":-18.9},{"x":1.18,"y":-19.6},{"x":1.19,"y":-20.1},{"x":1.2,"y":-20.4},{"x":1.215,"y":-20.65},{"x":1.228,"y":-20.77},{"x":1.238,"y":-20.6},{"x":1.245,"y":-20.0},{"x":1.25,"y":-18.77},{"x":1.255,"y":-19.6},{"x":1.262,"y":-20.4},{"x":1.275,"y":-20.9},{"x":1.29,"y":-21.25},{"x":1.31,"y":-21.6},{"x":1.33,"y":-21.85},{"x":1.36,"y":-22.1},{"x":1.39,"y":-22.28},{"x":1.43,"y":-22.4},{"x":1.47,"y":-22.49},{"x":1.495,"y":-22.42},{"x":1.51,"y":-22.1},{"x":1.518,"y":-21.35},{"x":1.525,"y":-21.9},{"x":1.535,"y":-22.4},{"x":1.55,"y":-22.58},{"x":1.6,"y":-22.77},{"x":1.65,"y":-22.88},{"x":1.71,"y":-22.98},{"x":1.79,"y":-23.08},{"x":1.87,"y":-23.14},{"x":1.95,"y":-23.18},{"x":2.04,"y":-23.24},{"x":2.12,"y":-23.28},{"x":2.2,"y":-23.32},{"x":2.28,"y":-23.36},{"x":2.37,"y":-23.38},{"x":2.45,"y":-23.4},{"x":2.53,"y":-23.41},{"x":2.58,"y":-23.4},{"x":2.61,"y":-23.36},{"x":2.64,"y":-23.2},{"x":2.66,"y":-23.0},{"x":2.68,"y":-22.5},{"x":2.695,"y":-22.05},{"x":2.705,"y":-21.92},{"x":2.715,"y":-22.1},{"x":2.73,"y":-22.6},{"x":2.75,"y":-22.9},{"x":2.78,"y":-23.15},{"x":2.81,"y":-23.28},{"x":2.86,"y":-23.38},{"x":2.91,"y":-23.42},{"x":2.96,"y":-23.42},{"x":3.01,"y":-23.4},{"x":3.06,"y":-23.33},{"x":3.09,"y":-23.15},{"x":3.11,"y":-22.85},{"x":3.125,"y":-22.4},{"x":3.135,"y":-22.12},{"x":3.145,"y":-22.35},{"x":3.16,"y":-22.7},{"x":3.18,"y":-23.05},{"x":3.2,"y":-23.24},{"x":3.24,"y":-23.38},{"x":3.3,"y":-23.46},{"x":3.37,"y":-23.5},{"x":3.47,"y":-23.54},{"x":3.55,"y":-23.52},{"x":3.61,"y":-23.43},{"x":3.64,"y":-23.32},{"x":3.66,"y":-23.22},{"x":3.675,"y":-23.27},{"x":3.69,"y":-23.2},{"x":3.71,"y":-23.05},{"x":3.73,"y":-22.82},{"x":3.745,"y":-23.05},{"x":3.76,"y":-23.35},{"x":3.78,"y":-23.5},{"x":3.82,"y":-23.56},{"x":3.9,"y":-23.57},{"x":3.96,"y":-23.55},{"x":3.99,"y":-23.45},{"x":4.01,"y":-23.35},{"x":4.03,"y":-23.45},{"x":4.06,"y":-23.58},{"x":4.12,"y":-23.62},{"x":4.19,"y":-23.63},{"x":4.4,"y":-23.66},{"x":4.7,"y":-23.68},{"x":5.0,"y":-23.69}],
"one": [{"n": 1}]
},
"layer": [
{"data": {"name": "h2"}, "mark": {"type": "line", "color": "#a8a8a8", "strokeWidth": 1.4, "clip": true},
 "encoding": {
  "x": {"field": "x", "type": "quantitative", "scale": {"domain": [0.4, 5], "nice": false, "zero": false},
   "axis": {"orient": "bottom", "zindex": 1, "grid": false, "values": [0.6,0.8,1,1.2,1.4,1.6,1.8,2,2.2,2.4,2.6,2.8,3,3.2,3.4,3.6,3.8,4,4.2,4.4,4.6,4.8,5],
    "labelExpr": "abs(datum.value - round(datum.value)) < 0.001 ? format(datum.value, 'd') : ''",
    "tickSize": {"condition": {"test": "abs(datum.value - round(datum.value)) < 0.001", "value": -19}, "value": -11},
    "tickColor": "#111", "tickWidth": 2, "domainColor": "#111", "domainWidth": 2,
    "labelFont": "DejaVu Sans", "labelFontSize": 23, "labelColor": "#111", "labelPadding": 41, "labelFlush": false, "labelOverlap": false,
    "title": "λ (μm)", "titleFont": "DejaVu Serif", "titleFontSize": 38, "titleFontWeight": "normal", "titleColor": "#222",
    "titleX": 745, "titleY": 92, "titleAlign": "center", "titleBaseline": "alphabetic"}},
  "y": {"field": "y", "type": "quantitative", "scale": {"domain": [-25, -15.5], "nice": false, "zero": false},
   "axis": {"orient": "left", "zindex": 1, "grid": false, "values": [-24.5,-24,-23.5,-23,-22.5,-22,-21.5,-21,-20.5,-20,-19.5,-19,-18.5,-18,-17.5,-17,-16.5,-16],
    "labelExpr": "datum.value % 2 == 0 ? '-' + format(abs(datum.value), 'd') : ''",
    "tickSize": {"condition": {"test": "datum.value % 2 == 0", "value": -19}, "value": -11},
    "tickColor": "#666", "tickWidth": 2, "domainColor": "#888", "domainWidth": 3,
    "labelFont": "DejaVu Sans", "labelFontSize": 23, "labelColor": "#111", "labelPadding": 50, "labelOffset": 4, "labelOverlap": false,
    "title": "Cross Section (in cm²)", "titleFont": "DejaVu Serif", "titleFontSize": 42, "titleFontWeight": "normal", "titleColor": "#222",
    "titleX": -113, "titleY": 531, "titleAngle": -90, "titleAlign": "center", "titleBaseline": "middle"}}
 }},
{"data": {"name": "nh3"}, "mark": {"type": "line", "color": "#f2a41e", "strokeWidth": 1.8, "clip": true},
 "encoding": {"x": {"field": "x", "type": "quantitative", "axis": null}, "y": {"field": "y", "type": "quantitative", "axis": null}}},
{"data": {"name": "ch4"}, "mark": {"type": "line", "color": "#169a6e", "strokeWidth": 2.2, "clip": true},
 "encoding": {"x": {"field": "x", "type": "quantitative", "axis": null}, "y": {"field": "y", "type": "quantitative", "axis": null}}},
{"data": {"name": "h2o"}, "mark": {"type": "line", "color": "#1418c8", "strokeWidth": 3.2, "clip": true},
 "encoding": {"x": {"field": "x", "type": "quantitative", "axis": null}, "y": {"field": "y", "type": "quantitative", "axis": null}}},
{"data": {"name": "co"}, "mark": {"type": "line", "color": "#cc33ee", "strokeWidth": 2.8, "clip": true},
 "encoding": {"x": {"field": "x", "type": "quantitative", "axis": null}, "y": {"field": "y", "type": "quantitative", "axis": null}}},
{"data": {"name": "tio"}, "mark": {"type": "line", "color": "#45e8c9", "strokeWidth": 2.0, "clip": true},
 "encoding": {
  "x": {"field": "x", "type": "quantitative",
   "axis": {"orient": "top", "zindex": 1, "grid": false, "labels": false, "title": null, "values": [0.6,0.8,1,1.2,1.4,1.6,1.8,2,2.2,2.4,2.6,2.8,3,3.2,3.4,3.6,3.8,4,4.2,4.4,4.6,4.8],
    "tickSize": {"condition": {"test": "abs(datum.value - round(datum.value)) < 0.001", "value": -18}, "value": -9},
    "tickColor": "#444", "tickWidth": 2, "domainColor": "#444", "domainWidth": 2}},
  "y": {"field": "y", "type": "quantitative",
   "axis": {"orient": "right", "zindex": 1, "grid": false, "labels": false, "title": null, "values": [-24.5,-24,-23.5,-23,-22.5,-22,-21.5,-21,-20.5,-20,-19.5,-19,-18.5,-18,-17.5,-17,-16.5,-16],
    "tickSize": {"condition": {"test": "datum.value % 2 == 0", "value": -19}, "value": -11},
    "tickColor": "#222", "tickWidth": 2, "domainColor": "#222", "domainWidth": 2}}
 }},
{"data": {"name": "na"}, "mark": {"type": "line", "color": "#c0185c", "strokeWidth": 1.6, "clip": true},
 "encoding": {"x": {"field": "x", "type": "quantitative", "axis": null}, "y": {"field": "y", "type": "quantitative", "axis": null}}},
{"data": {"name": "k"}, "mark": {"type": "line", "color": "#e8204c", "strokeWidth": 1.6, "clip": true},
 "encoding": {"x": {"field": "x", "type": "quantitative", "axis": null}, "y": {"field": "y", "type": "quantitative", "axis": null}}},
{"data": {"name": "one"}, "mark": {"type": "text", "text": "H", "font": "Liberation Serif", "fontSize": 50, "align": "left", "baseline": "alphabetic", "color": "#b8b8b8"},
 "encoding": {"x": {"datum": 3.505, "type": "quantitative", "axis": null}, "y": {"datum": -16.5, "type": "quantitative", "axis": null}}},
{"data": {"name": "one"}, "mark": {"type": "text", "text": "2", "font": "Liberation Serif", "fontSize": 28, "align": "left", "baseline": "alphabetic", "color": "#b8b8b8", "dx": 38, "dy": 8},
 "encoding": {"x": {"datum": 3.505, "type": "quantitative", "axis": null}, "y": {"datum": -16.5, "type": "quantitative", "axis": null}}},
{"data": {"name": "one"}, "mark": {"type": "text", "text": "H", "font": "Liberation Serif", "fontSize": 50, "align": "left", "baseline": "alphabetic", "color": "#1e28a8"},
 "encoding": {"x": {"datum": 3.505, "type": "quantitative", "axis": null}, "y": {"datum": -17.01, "type": "quantitative", "axis": null}}},
{"data": {"name": "one"}, "mark": {"type": "text", "text": "2", "font": "Liberation Serif", "fontSize": 28, "align": "left", "baseline": "alphabetic", "color": "#1e28a8", "dx": 38, "dy": 8},
 "encoding": {"x": {"datum": 3.505, "type": "quantitative", "axis": null}, "y": {"datum": -17.01, "type": "quantitative", "axis": null}}},
{"data": {"name": "one"}, "mark": {"type": "text", "text": "O", "font": "Liberation Serif", "fontSize": 50, "align": "left", "baseline": "alphabetic", "color": "#1e28a8", "dx": 55},
 "encoding": {"x": {"datum": 3.505, "type": "quantitative", "axis": null}, "y": {"datum": -17.01, "type": "quantitative", "axis": null}}},
{"data": {"name": "one"}, "mark": {"type": "text", "text": "CH", "font": "Liberation Serif", "fontSize": 50, "align": "left", "baseline": "alphabetic", "color": "#23987a"},
 "encoding": {"x": {"datum": 3.505, "type": "quantitative", "axis": null}, "y": {"datum": -17.51, "type": "quantitative", "axis": null}}},
{"data": {"name": "one"}, "mark": {"type": "text", "text": "4", "font": "Liberation Serif", "fontSize": 28, "align": "left", "baseline": "alphabetic", "color": "#23987a", "dx": 72, "dy": 8},
 "encoding": {"x": {"datum": 3.505, "type": "quantitative", "axis": null}, "y": {"datum": -17.51, "type": "quantitative", "axis": null}}},
{"data": {"name": "one"}, "mark": {"type": "text", "text": "NH", "font": "Liberation Serif", "fontSize": 50, "align": "left", "baseline": "alphabetic", "color": "#eeaa44"},
 "encoding": {"x": {"datum": 3.505, "type": "quantitative", "axis": null}, "y": {"datum": -18.0, "type": "quantitative", "axis": null}}},
{"data": {"name": "one"}, "mark": {"type": "text", "text": "3", "font": "Liberation Serif", "fontSize": 28, "align": "left", "baseline": "alphabetic", "color": "#eeaa44", "dx": 74, "dy": 8},
 "encoding": {"x": {"datum": 3.505, "type": "quantitative", "axis": null}, "y": {"datum": -18.0, "type": "quantitative", "axis": null}}},
{"data": {"name": "one"}, "mark": {"type": "text", "text": "CO", "font": "Liberation Serif", "fontSize": 50, "align": "left", "baseline": "alphabetic", "color": "#b845dd"},
 "encoding": {"x": {"datum": 3.505, "type": "quantitative", "axis": null}, "y": {"datum": -18.49, "type": "quantitative", "axis": null}}},
{"data": {"name": "one"}, "mark": {"type": "text", "text": "TiO", "font": "Liberation Serif", "fontSize": 50, "align": "left", "baseline": "alphabetic", "color": "#6ee3ca"},
 "encoding": {"x": {"datum": 3.505, "type": "quantitative", "axis": null}, "y": {"datum": -18.98, "type": "quantitative", "axis": null}}},
{"data": {"name": "one"}, "mark": {"type": "text", "text": "Na", "font": "Liberation Serif", "fontSize": 50, "align": "left", "baseline": "alphabetic", "color": "#b61f5e"},
 "encoding": {"x": {"datum": 4.008, "type": "quantitative", "axis": null}, "y": {"datum": -16.5, "type": "quantitative", "axis": null}}},
{"data": {"name": "one"}, "mark": {"type": "text", "text": "K", "font": "Liberation Serif", "fontSize": 50, "align": "left", "baseline": "alphabetic", "color": "#d82a55"},
 "encoding": {"x": {"datum": 4.008, "type": "quantitative", "axis": null}, "y": {"datum": -17.01, "type": "quantitative", "axis": null}}}
],
"resolve": {"axis": {"x": "independent", "y": "independent"}}
}
